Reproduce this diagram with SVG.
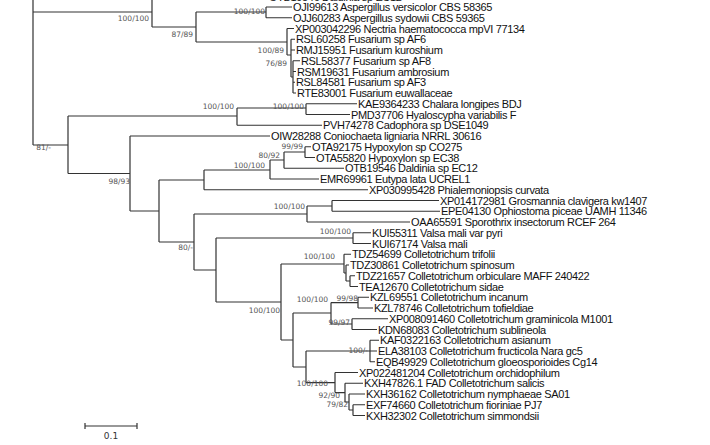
<svg xmlns="http://www.w3.org/2000/svg" width="710" height="445" viewBox="0 0 710 445">
<style>
.e{fill:none;stroke:#333;stroke-width:1.2}
.t{font-family:"Liberation Sans",Arial,sans-serif;font-size:11px;fill:#111;letter-spacing:-0.35px}
.b{font-family:"DejaVu Sans",sans-serif;font-size:7.5px;fill:#555;text-anchor:end}
</style>
<rect width="710" height="445" fill="#fff"/>
<g id="connectors">
<path class="e" d="M33,0V145 M33,12H152 M152,0V27 M152,27H196 M196,12V42 M196,12H266 M266,7V17.75 M266,7H292 M266,17.75H292
M196,42H287 M287,28.5V55 M287,28.5H294 M287,55H291 M291,39.25V77 M291,39.25H295 M291,50H295 M291,77H293 M293,60.75V93 M293,60.75H300 M293,71.5H296 M293,82.25H295 M293,93H296
M33,145H68 M68,116V173.5 M68,116H237 M237,108V125.25 M237,108H306 M306,103.75V114.5 M306,103.75H357 M306,114.5H350 M237,125.25H322
M68,173.5H130 M130,136V211 M130,136H270
M130,211H159 M159,180V242 M159,180H204 M204,170V189.75 M204,189.75H368 M204,170H270 M270,160V179 M270,179H319 M270,160H284 M284,152V168.25 M284,168.25H344 M284,152H305 M305,146.75V157.5 M305,146.75H311 M305,157.5H315
M159,242H194 M194,214V270 M194,214H307 M307,206V222 M307,222H410 M307,206H332 M332,200.5V211.25 M332,200.5H439 M332,211.25H440
M194,270H216 M216,238V302 M216,238H353 M353,232.75V243.5 M353,232.75H371 M353,243.5H371
M216,302H281 M281,264V340 M281,264H344 M344,254.25V273 M344,254.25H351 M344,273H346 M346,265V281 M346,265H349 M346,281H350 M350,275.75V286.5 M350,275.75H355 M350,286.5H358
M281,340H293 M293,313V367 M293,313H331 M331,302.6V324 M331,302.6H358 M358,297.25V308 M358,297.25H369 M358,308H373 M331,324H352 M352,318.75V329.5 M352,318.75H388 M352,329.5H377
M293,367H306 M306,351V382.6 M306,351H370 M370,340.25V361.75 M370,340.25H379 M370,351H377 M370,361.75H375
M306,382.6H335 M335,372.5V392.6 M335,372.5H358 M335,392.6H345 M345,383.25V402 M345,383.25H363 M345,402H349 M349,394V410 M349,394H365 M349,410H353 M353,404.75V415.5 M353,404.75H365 M353,415.5H365"/>
</g>
<g id="tips">
<text class="t" x="269" y="0.5">OTB19546 Daldinia sp EC12</text>
<text class="t" x="293" y="11">OJI99613 Aspergillus versicolor CBS 58365</text>
<text class="t" x="293" y="21.75">OJJ60283 Aspergillus sydowii CBS 59365</text>
<text class="t" x="295" y="32.5">XP003042296 Nectria haematococca mpVI 77134</text>
<text class="t" x="296" y="43.25">RSL60258 Fusarium sp AF6</text>
<text class="t" x="296" y="54">RMJ15951 Fusarium kuroshium</text>
<text class="t" x="301" y="64.75">RSL58377 Fusarium sp AF8</text>
<text class="t" x="297" y="75.5">RSM19631 Fusarium ambrosium</text>
<text class="t" x="296" y="86.25">RSL84581 Fusarium sp AF3</text>
<text class="t" x="297" y="97">RTE83001 Fusarium euwallaceae</text>
<text class="t" x="358" y="107.75">KAE9364233 Chalara longipes BDJ</text>
<text class="t" x="351" y="118.5">PMD37706 Hyaloscypha variabilis F</text>
<text class="t" x="323" y="129.25">PVH74278 Cadophora sp DSE1049</text>
<text class="t" x="271" y="140">OIW28288 Coniochaeta ligniaria NRRL 30616</text>
<text class="t" x="312" y="150.75">OTA92175 Hypoxylon sp CO275</text>
<text class="t" x="316" y="161.5">OTA55820 Hypoxylon sp EC38</text>
<text class="t" x="345" y="172.25">OTB19546 Daldinia sp EC12</text>
<text class="t" x="320" y="183">EMR69961 Eutypa lata UCREL1</text>
<text class="t" x="369" y="193.75">XP030995428 Phialemoniopsis curvata</text>
<text class="t" x="440" y="204.5">XP014172981 Grosmannia clavigera kw1407</text>
<text class="t" x="441" y="215.25">EPE04130 Ophiostoma piceae UAMH 11346</text>
<text class="t" x="411" y="226">OAA65591 Sporothrix insectorum RCEF 264</text>
<text class="t" x="372" y="236.75">KUI55311 Valsa mali var pyri</text>
<text class="t" x="372" y="247.5">KUI67174 Valsa mali</text>
<text class="t" x="352" y="258.25">TDZ54699 Colletotrichum trifolii</text>
<text class="t" x="350" y="269">TDZ30861 Colletotrichum spinosum</text>
<text class="t" x="356" y="279.75">TDZ21657 Colletotrichum orbiculare MAFF 240422</text>
<text class="t" x="359" y="290.5">TEA12670 Colletotrichum sidae</text>
<text class="t" x="370" y="301.25">KZL69551 Colletotrichum incanum</text>
<text class="t" x="374" y="312">KZL78746 Colletotrichum tofieldiae</text>
<text class="t" x="389" y="322.75">XP008091460 Colletotrichum graminicola M1001</text>
<text class="t" x="378" y="333.5">KDN68083 Colletotrichum sublineola</text>
<text class="t" x="380" y="344.25">KAF0322163 Colletotrichum asianum</text>
<text class="t" x="378" y="355">ELA38103 Colletotrichum fructicola Nara gc5</text>
<text class="t" x="376" y="365.75">EQB49929 Colletotrichum gloeosporioides Cg14</text>
<text class="t" x="359" y="376.5">XP022481204 Colletotrichum orchidophilum</text>
<text class="t" x="364" y="387.25">KXH47826.1 FAD Colletotrichum salicis</text>
<text class="t" x="366" y="398">KXH36162 Colletotrichum nymphaeae SA01</text>
<text class="t" x="366" y="408.75">EXF74660 Colletotrichum fioriniae PJ7</text>
<text class="t" x="366" y="419.5">KXH32302 Colletotrichum simmondsii</text>
</g>
<g id="support">
<text class="b" x="149" y="21">100/100</text>
<text class="b" x="265" y="14">100/100</text>
<text class="b" x="193" y="37">87/89</text>
<text class="b" x="284" y="53">100/89</text>
<text class="b" x="287" y="66">76/89</text>
<text class="b" x="234" y="109">100/100</text>
<text class="b" x="304" y="109">100/100</text>
<text class="b" x="51" y="150">81/-</text>
<text class="b" x="303" y="149">99/99</text>
<text class="b" x="280" y="158">80/92</text>
<text class="b" x="265" y="168">100/100</text>
<text class="b" x="130" y="184">98/93</text>
<text class="b" x="305" y="209">100/100</text>
<text class="b" x="193" y="250">80/-</text>
<text class="b" x="351" y="234">100/100</text>
<text class="b" x="335" y="259">100/100</text>
<text class="b" x="280" y="313">100/100</text>
<text class="b" x="328" y="302">100/100</text>
<text class="b" x="358" y="301">99/98</text>
<text class="b" x="350" y="325">99/97</text>
<text class="b" x="368" y="353">100/-</text>
<text class="b" x="328" y="386">100/100</text>
<text class="b" x="340" y="398">92/90</text>
<text class="b" x="348" y="407">79/82</text>
</g>
<g id="scale">
<path class="e" d="M85,426H137 M85,423V429 M137,423V429"/>
<text x="111" y="439" text-anchor="middle" style="font-family:'DejaVu Sans',sans-serif;font-size:9px;fill:#333">0.1</text>
</g>
</svg>
